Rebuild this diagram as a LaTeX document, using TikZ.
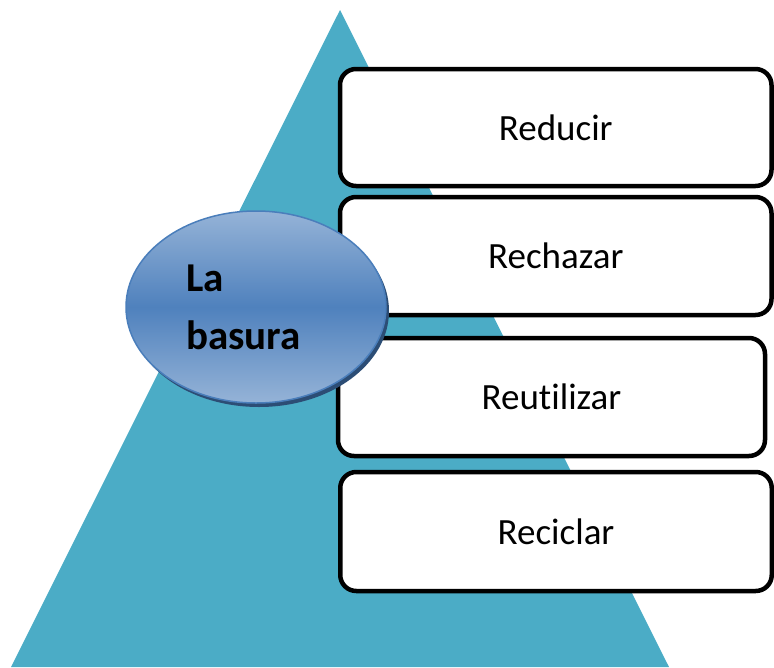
\documentclass[tikz,border=0pt]{standalone}
\usepackage{fontspec}
\setmainfont[Ligatures={NoCommon}]{Carlito}
\usepackage{xcolor}
\usetikzlibrary{shapes.geometric, shadows, positioning}

\definecolor{pyramidteal}{HTML}{4BACC6}
\definecolor{blobmid}{HTML}{4F81BD}
\definecolor{bloblight}{HTML}{95B3D7}
\definecolor{blobedge}{HTML}{4A7EBB}
\definecolor{blobshadow}{HTML}{2C4D75}

\tikzset{
    stagebox/.style={draw=black, line width=4.5pt, rounded corners=16pt, fill=white,
        minimum width=431.5pt, inner sep=0pt,
        font=\fontsize{37}{40}\selectfont},
    blob/.style={ellipse, draw=blobedge, line width=1.5pt,
        top color=bloblight, bottom color=bloblight, middle color=blobmid,
        minimum width=260pt, minimum height=192pt, inner sep=0pt,
        text width=140pt, align=left,
        font=\fontsize{41}{58}\selectfont\bfseries,
        drop shadow={shadow xshift=3pt, shadow yshift=-4pt, fill=blobshadow, opacity=1}}
}

\begin{document}
\begin{tikzpicture}[x=1pt, y=-1pt]
                        \useasboundingbox (0,0) rectangle (774,667);
                        \fill[pyramidteal] (340,10) -- (669,667) -- (11,667) -- cycle;
                        \node[stagebox, minimum height=117pt] (reducir) at (555.75,127.5) {Reducir};
                        \node[stagebox, minimum height=118pt] (rechazar) at (555.75,256) {Rechazar};
                        \node[stagebox, minimum height=118pt, minimum width=427pt] (reutilizar) at (551.5,397) {Reutilizar};
                        \node[stagebox, minimum height=119pt] (reciclar) at (556,531.5) {Reciclar};
                        \node[blob] (basura) at (256,307) {La\\basura};
                    \end{tikzpicture}
\end{document}
